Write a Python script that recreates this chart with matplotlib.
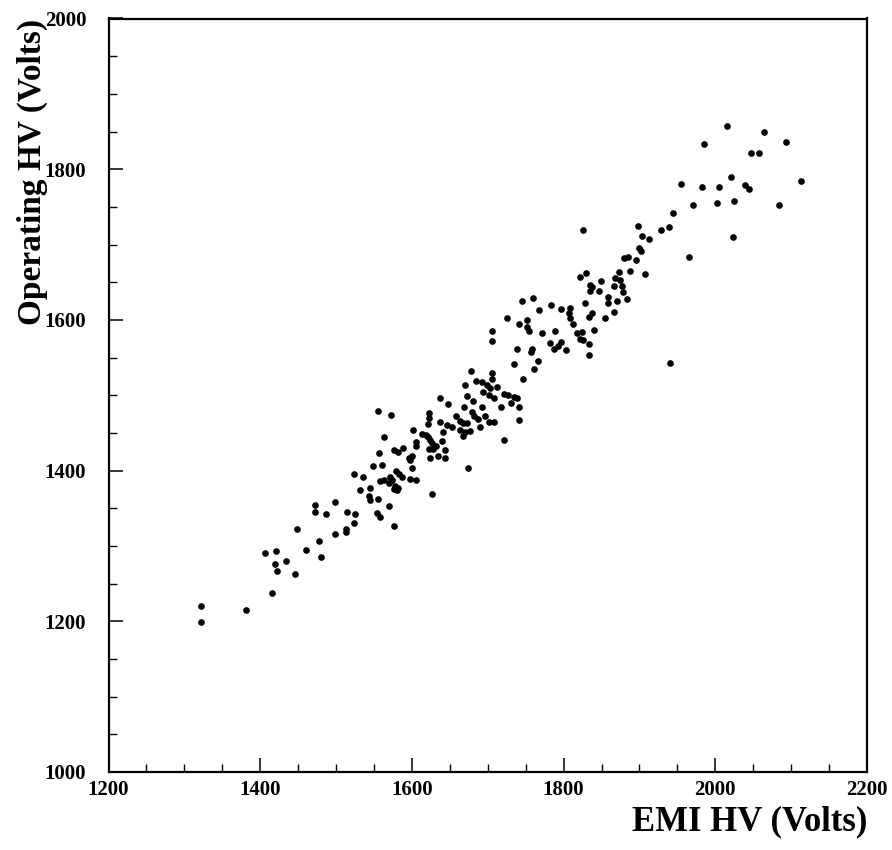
import matplotlib
matplotlib.use("Agg")
import matplotlib.pyplot as plt
from matplotlib.ticker import MultipleLocator

# EMI HV vs operating HV (Volts)
emi_hv = [
    # low end
    1322, 1322, 1381, 1416, 1406, 1421, 1419, 1422, 1434, 1446, 1448, 1461,
    1477, 1480, 1499, 1513, 1513, 1524, 1576, 1472, 1472, 1487,
    # 1500 - 1700 band
    1670, 1637, 1647, 1673, 1681, 1669, 1684, 1555, 1572, 1623, 1622, 1621,
    1637, 1646, 1653, 1658, 1664, 1668, 1673, 1679, 1682, 1687, 1601, 1641,
    1664, 1670, 1676, 1668, 1563, 1613, 1618, 1621, 1624, 1626, 1640, 1606,
    1606, 1623, 1628, 1632, 1644, 1644, 1624, 1634, 1577, 1582, 1588, 1557,
    1596, 1600, 1598, 1549, 1560, 1600, 1579, 1583, 1587, 1524, 1535, 1571,
    1574, 1570, 1558, 1563, 1597, 1606, 1578, 1582, 1576, 1580, 1531, 1545,
    1544, 1545, 1555, 1498, 1570, 1515, 1525, 1554, 1558, 1627, 1674, 1678,
    # 1700 - 1900 band
    1822, 1829, 1835, 1835, 1837, 1849, 1847, 1866, 1868, 1875, 1877, 1878,
    1873, 1888, 1907, 1859, 1859, 1870, 1884, 1745, 1760, 1784, 1767, 1797,
    1809, 1807, 1808, 1813, 1828, 1837, 1833, 1866, 1854, 1725, 1752, 1752,
    1754, 1741, 1771, 1789, 1818, 1824, 1822, 1826, 1834, 1840, 1705, 1706,
    1782, 1787, 1792, 1797, 1803, 1833, 1739, 1758, 1757, 1734, 1766, 1761,
    1746, 1940, 1705, 1706, 1692, 1699, 1703, 1712, 1694, 1701, 1708, 1721,
    1727, 1734, 1739, 1730, 1717, 1692, 1697, 1701, 1708, 1690, 1741, 1741,
    1722,
    # upper end
    1825, 1898, 1903, 1900, 1902, 1880, 1885, 1895,
    2016, 2064, 1985, 2093, 2047, 2057, 1955, 1983, 2005, 2021, 2039, 2045,
    2113, 1970, 2002, 2025, 2084, 1944, 1928, 1939, 1912, 2023, 1965,
]
op_hv = [
    1220, 1199, 1215, 1237, 1290, 1293, 1276, 1267, 1280, 1263, 1322, 1294,
    1307, 1285, 1316, 1322, 1318, 1331, 1326, 1355, 1345, 1342,
    1513, 1497, 1488, 1499, 1492, 1484, 1519, 1479, 1474, 1476, 1470, 1462,
    1464, 1461, 1458, 1472, 1466, 1463, 1463, 1478, 1472, 1468, 1454, 1451,
    1454, 1451, 1453, 1446, 1444, 1449, 1447, 1445, 1440, 1436, 1439, 1438,
    1433, 1429, 1429, 1432, 1427, 1417, 1417, 1419, 1427, 1425, 1430, 1423,
    1417, 1419, 1414, 1406, 1407, 1404, 1400, 1396, 1392, 1396, 1391, 1392,
    1387, 1383, 1386, 1387, 1389, 1387, 1380, 1377, 1376, 1374, 1374, 1377,
    1366, 1361, 1362, 1358, 1353, 1345, 1343, 1344, 1338, 1369, 1403, 1532,
    1657, 1662, 1646, 1639, 1644, 1652, 1639, 1645, 1655, 1653, 1645, 1637,
    1664, 1665, 1661, 1631, 1622, 1625, 1628, 1625, 1629, 1620, 1613, 1614,
    1616, 1609, 1603, 1595, 1623, 1609, 1604, 1611, 1602, 1603, 1600, 1591,
    1585, 1594, 1582, 1585, 1583, 1584, 1575, 1573, 1568, 1587, 1585, 1572,
    1569, 1561, 1566, 1571, 1560, 1553, 1561, 1562, 1558, 1542, 1546, 1535,
    1522, 1543, 1530, 1522, 1518, 1513, 1509, 1511, 1504, 1500, 1496, 1502,
    1500, 1498, 1496, 1490, 1484, 1484, 1473, 1465, 1465, 1458, 1484, 1467,
    1441,
    1719, 1724, 1712, 1696, 1691, 1682, 1684, 1679,
    1857, 1850, 1833, 1836, 1822, 1822, 1780, 1776, 1777, 1790, 1779, 1774,
    1784, 1752, 1755, 1758, 1752, 1742, 1719, 1723, 1708, 1710, 1684,
]

x_ticks = [1200, 1400, 1600, 1800, 2000, 2200]
y_ticks = [1000, 1200, 1400, 1600, 1800, 2000]

plt.rcParams['font.family'] = ['Liberation Serif', 'DejaVu Serif']
plt.rcParams['font.weight'] = 'bold'

fig = plt.figure(figsize=(8.92, 8.5), dpi=100)
ax = fig.add_axes([108.5 / 892, 78 / 850, (867 - 108.5) / 892, (772 - 18.5) / 850])

ax.plot(emi_hv, op_hv, 'o', color='black', markersize=4.8, markeredgewidth=0)

ax.set_xlim(1200, 2200)
ax.set_ylim(1000, 2000)
ax.set_xticks(x_ticks)
ax.set_yticks(y_ticks)
ax.xaxis.set_minor_locator(MultipleLocator(50))
ax.yaxis.set_minor_locator(MultipleLocator(50))
ax.tick_params(which='major', direction='in', length=10, width=1.1,
               labelsize=15, top=False, right=False)
ax.tick_params(which='minor', direction='in', length=5.5, width=1.0,
               top=False, right=False)
ax.tick_params(axis='x', pad=6)
ax.tick_params(axis='y', pad=16)
for lbl in ax.get_xticklabels() + ax.get_yticklabels():
    lbl.set_fontweight('bold')
for sp in ax.spines.values():
    sp.set_linewidth(1.6)

fig.text(867 / 892, 1 - 822 / 850, 'EMI HV (Volts)', ha='right', va='center',
         fontsize=25, fontweight='bold')
fig.text(32 / 892, 1 - 18.5 / 850, 'Operating HV (Volts)', rotation=90,
         ha='center', va='top', fontsize=24, fontweight='bold')

fig.savefig('out.png', dpi=100, facecolor='white')
